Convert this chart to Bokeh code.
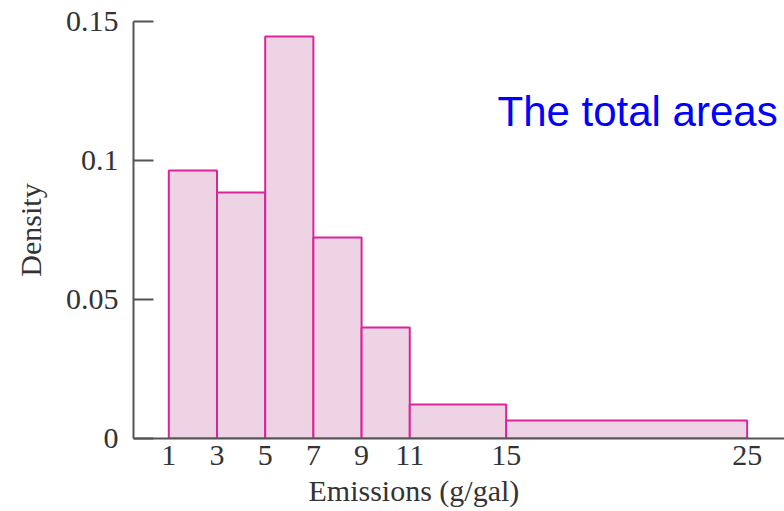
from bokeh.plotting import figure
from bokeh.models import FixedTicker, Range1d, Label, Title
from bokeh.embed import file_html
from bokeh.resources import INLINE

# Data
bin_edges = [1, 3, 5, 7, 9, 11, 15, 25]
densities = [0.0964, 0.0885, 0.1446, 0.0723, 0.0399, 0.0122, 0.0065]
x_ticks = [1, 3, 5, 7, 9, 11, 15, 25]
y_ticks = [0, 0.05, 0.1, 0.15]
y_tick_labels = ["0", "0.05", "0.1", "0.15"]
x_title = "Emissions (g/gal)"
y_title = "Density"
note_text = "The total areas"

p = figure(width=784, height=511, output_backend="svg", toolbar_location=None,
           x_range=Range1d(-0.465, 26.55), y_range=Range1d(0, 0.15),
           min_border_left=133, min_border_top=21, min_border_bottom=73,
           min_border_right=0)
p.outline_line_color = None
p.xgrid.visible = False
p.ygrid.visible = False
p.background_fill_color = "white"
p.border_fill_color = "white"

p.quad(left=bin_edges[:-1], right=bin_edges[1:], top=densities, bottom=0,
       fill_color="#eed3e5", line_color="#d9259c", line_width=2)

serif = "Liberation Serif"
axcol = "#555555"
fs = "30px"

p.xaxis.ticker = FixedTicker(ticks=x_ticks)
p.xaxis.major_tick_in = 0
p.xaxis.major_tick_out = 0
p.xaxis.minor_tick_line_color = None
p.xaxis.axis_line_color = axcol
p.xaxis.axis_line_width = 2
p.xaxis.major_label_text_font = serif
p.xaxis.major_label_text_font_size = fs
p.xaxis.major_label_text_color = "#333333"
p.xaxis.major_label_standoff = 7

p.yaxis.ticker = FixedTicker(ticks=y_ticks)
p.yaxis.major_label_overrides = {t: s for t, s in zip(y_ticks, y_tick_labels)}
p.yaxis.major_tick_in = 20
p.yaxis.major_tick_out = 0
p.yaxis.major_tick_line_width = 2
p.yaxis.major_tick_line_color = axcol
p.yaxis.minor_tick_line_color = None
p.yaxis.axis_line_color = axcol
p.yaxis.axis_line_width = 2
p.yaxis.major_label_text_font = serif
p.yaxis.major_label_text_font_size = fs
p.yaxis.major_label_text_color = "#333333"
p.yaxis.major_label_standoff = 15
p.yaxis.axis_label = y_title
p.yaxis.axis_label_text_font = serif
p.yaxis.axis_label_text_font_size = fs
p.yaxis.axis_label_text_font_style = "normal"
p.yaxis.axis_label_text_color = "#333333"
p.yaxis.axis_label_standoff = 16

p.add_layout(Title(text=x_title, align="left", offset=175, standoff=8,
                   text_font=serif, text_font_size=fs, text_font_style="normal",
                   text_color="#333333"), "below")

p.add_layout(Label(x=14.64, y=0.1177, text=note_text, text_align="left",
                   text_baseline="alphabetic", text_font="Liberation Sans",
                   text_font_size="42px", text_color="#0000ff"))

open("out.html", "w").write(file_html(p, INLINE))
